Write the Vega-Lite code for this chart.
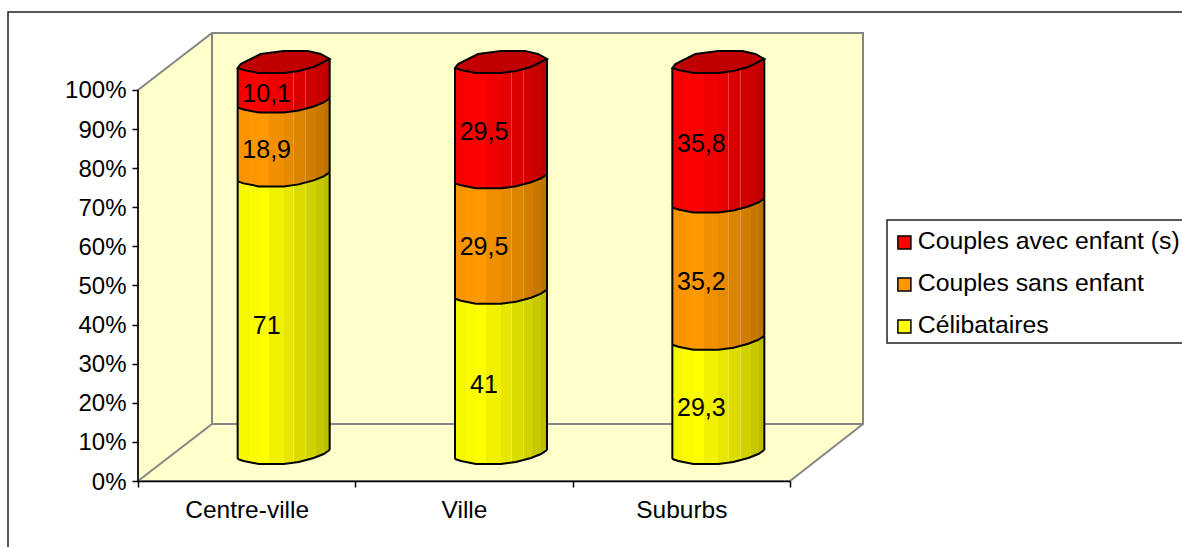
{"$schema":"https://vega.github.io/schema/vega-lite/v6.json","width":725,"height":449,"autosize":"none","padding":{"left":138,"top":32,"right":319,"bottom":66},"background":"white","config":{"view":{"stroke":null},"font":"Liberation Sans"},
"data":{"values":[
{"ville":"Centre-ville","type":"Célibataires","valeur":71,"etiquette":"71","rang":1},
{"ville":"Centre-ville","type":"Couples sans enfant","valeur":18.9,"etiquette":"18,9","rang":2},
{"ville":"Centre-ville","type":"Couples avec enfant (s)","valeur":10.1,"etiquette":"10,1","rang":3},
{"ville":"Ville","type":"Célibataires","valeur":41,"etiquette":"41","rang":1},
{"ville":"Ville","type":"Couples sans enfant","valeur":29.5,"etiquette":"29,5","rang":2},
{"ville":"Ville","type":"Couples avec enfant (s)","valeur":29.5,"etiquette":"29,5","rang":3},
{"ville":"Suburbs","type":"Célibataires","valeur":29.3,"etiquette":"29,3","rang":1},
{"ville":"Suburbs","type":"Couples sans enfant","valeur":35.2,"etiquette":"35,2","rang":2},
{"ville":"Suburbs","type":"Couples avec enfant (s)","valeur":35.8,"etiquette":"35,8","rang":3}]},
"transform":[{"stack":"valeur","groupby":["ville"],"sort":[{"field":"rang","order":"ascending"}],"offset":"normalize","as":["y0","y1"]}],
"encoding":{"x":{"field":"ville","type":"nominal","sort":null,"title":null,"scale":{"domain":["Centre-ville","Ville","Suburbs"],"range":[0,652],"paddingInner":0,"paddingOuter":0},"axis":{"tickBand":"extent","labelAngle":0,"labelFontSize":24.5,"labelColor":"#000","domainColor":"#000","tickColor":"#000","domainWidth":1.5,"tickWidth":1.5,"tickSize":6,"labelPadding":11,"zindex":1,"grid":false}},
"y":{"field":"y1","type":"quantitative","title":null,"scale":{"domain":[0,1.1483],"nice":false,"zero":false},"axis":{"values":[0,0.1,0.2,0.3,0.4,0.5,0.6,0.7,0.8,0.9,1],"format":".0%","labelFontSize":24,"labelColor":"#000","labelOffset":1,"domain":false,"tickColor":"#000","tickWidth":1.5,"tickSize":6,"labelPadding":6,"zindex":1,"grid":false}}},
"layer":[
{"transform":[{"filter":"datum.rang==1 && datum.ville=='Centre-ville'"}],"mark":{"type":"point","filled":false,"opacity":1,"size":4,"stroke":"#222222","strokeWidth":1.5,"shape":"M1100,-469L-130,-469L-130,100M1052,-261L749,-261L749,-138L1052,-138"},"encoding":{"x":{"datum":"Centre-ville","bandPosition":0},"y":{"datum":0}}},
{"transform":[{"filter":"datum.rang==1 && datum.ville=='Centre-ville'"}],"mark":{"type":"point","filled":true,"opacity":1,"size":4,"fill":"#FFFFCC","stroke":"#868686","strokeWidth":2,"shape":"M0,0L0,-391L74,-448L725,-448L725,-57L652,0Z"},"encoding":{"x":{"datum":"Centre-ville","bandPosition":0},"y":{"datum":0}}},
{"transform":[{"filter":"datum.rang==1 && datum.ville=='Centre-ville'"}],"mark":{"type":"point","filled":false,"opacity":1,"size":4,"stroke":"#868686","strokeWidth":2,"shape":"M0,0L74,-57L74,-448M74,-57L725,-57"},"encoding":{"x":{"datum":"Centre-ville","bandPosition":0},"y":{"datum":0}}},
{"transform":[{"filter":"datum.rang==1 && datum.ville=='Centre-ville'"}],"mark":{"type":"point","filled":false,"opacity":1,"size":4,"stroke":"#000","strokeWidth":1.5,"shape":"M0,0L0,-391"},"encoding":{"x":{"datum":"Centre-ville","bandPosition":0},"y":{"datum":0}}},
{"mark":{"type":"bar","size":40,"xOffset":37,"yOffset":-28,"y2Offset":-28},"encoding":{"y2":{"field":"y0"},"fill":{"field":"type","type":"nominal","title":null,"scale":{"domain":["Couples avec enfant (s)","Couples sans enfant","Célibataires"],"range":["#FF0000","#FF9900","#FFFF00"]},"legend":{"orient":"none","legendX":754,"legendY":198,"padding":0,"labelFontSize":24.8,"labelColor":"#000","labelLimit":400,"symbolType":"square","symbolSize":169,"symbolStrokeColor":"#000","symbolStrokeWidth":1.5,"rowPadding":16,"labelOffset":1}}}},
{"transform":[{"filter":"datum.rang==1"}],"mark":{"type":"bar","size":92,"xOffset":37,"yOffset":-31,"y2Offset":-31,"fill":{"gradient":"linear","x1":0,"x2":1,"y1":0,"y2":0,"stops":[{"offset":0,"color":"#F7F700"},{"offset":0.12,"color":"#F7F700"},{"offset":0.12,"color":"#FCFC00"},{"offset":0.23,"color":"#FCFC00"},{"offset":0.23,"color":"#FFFF00"},{"offset":0.34,"color":"#FFFF00"},{"offset":0.34,"color":"#F0F000"},{"offset":0.5,"color":"#F0F000"},{"offset":0.5,"color":"#E6E600"},{"offset":0.605,"color":"#E6E600"},{"offset":0.605,"color":"#EEEE40"},{"offset":0.615,"color":"#EEEE40"},{"offset":0.615,"color":"#DBDB00"},{"offset":0.735,"color":"#DBDB00"},{"offset":0.735,"color":"#E4E440"},{"offset":0.745,"color":"#E4E440"},{"offset":0.745,"color":"#D1D100"},{"offset":0.85,"color":"#D1D100"},{"offset":0.85,"color":"#C7C700"},{"offset":0.94,"color":"#C7C700"},{"offset":0.94,"color":"#BDBD00"},{"offset":1,"color":"#BDBD00"}]}},"encoding":{"y2":{"field":"y0"}}},
{"transform":[{"filter":"datum.rang==1"}],"mark":{"type":"point","filled":true,"opacity":1,"size":4,"xOffset":37,"yOffset":-28,"stroke":null,"shape":"M-46,6L-40,8L-25,11L0,11L15,9L30,5L40,1L46,-3L46,-15L-46,-15Z","fill":{"gradient":"linear","x1":0,"x2":1,"y1":0,"y2":0,"stops":[{"offset":0,"color":"#F7F700"},{"offset":0.12,"color":"#F7F700"},{"offset":0.12,"color":"#FCFC00"},{"offset":0.23,"color":"#FCFC00"},{"offset":0.23,"color":"#FFFF00"},{"offset":0.34,"color":"#FFFF00"},{"offset":0.34,"color":"#F0F000"},{"offset":0.5,"color":"#F0F000"},{"offset":0.5,"color":"#E6E600"},{"offset":0.605,"color":"#E6E600"},{"offset":0.605,"color":"#EEEE40"},{"offset":0.615,"color":"#EEEE40"},{"offset":0.615,"color":"#DBDB00"},{"offset":0.735,"color":"#DBDB00"},{"offset":0.735,"color":"#E4E440"},{"offset":0.745,"color":"#E4E440"},{"offset":0.745,"color":"#D1D100"},{"offset":0.85,"color":"#D1D100"},{"offset":0.85,"color":"#C7C700"},{"offset":0.94,"color":"#C7C700"},{"offset":0.94,"color":"#BDBD00"},{"offset":1,"color":"#BDBD00"}]}},"encoding":{"y":{"field":"y0"}}},
{"transform":[{"filter":"datum.rang==1"}],"mark":{"type":"point","filled":false,"opacity":1,"size":4,"xOffset":37,"yOffset":-28,"stroke":"#000","strokeWidth":2,"shape":"M-46,6L-40,8L-25,11L0,11L15,9L30,5L40,1L46,-3"},"encoding":{"y":{"field":"y0"}}},
{"transform":[{"filter":"datum.rang==2"}],"mark":{"type":"bar","size":92,"xOffset":37,"yOffset":-31,"y2Offset":-31,"fill":{"gradient":"linear","x1":0,"x2":1,"y1":0,"y2":0,"stops":[{"offset":0,"color":"#F79400"},{"offset":0.12,"color":"#F79400"},{"offset":0.12,"color":"#FC9700"},{"offset":0.23,"color":"#FC9700"},{"offset":0.23,"color":"#FF9900"},{"offset":0.34,"color":"#FF9900"},{"offset":0.34,"color":"#F09000"},{"offset":0.5,"color":"#F09000"},{"offset":0.5,"color":"#E68A00"},{"offset":0.605,"color":"#E68A00"},{"offset":0.605,"color":"#EAA040"},{"offset":0.615,"color":"#EAA040"},{"offset":0.615,"color":"#DB8400"},{"offset":0.735,"color":"#DB8400"},{"offset":0.735,"color":"#E09A40"},{"offset":0.745,"color":"#E09A40"},{"offset":0.745,"color":"#D17D00"},{"offset":0.85,"color":"#D17D00"},{"offset":0.85,"color":"#C77700"},{"offset":0.94,"color":"#C77700"},{"offset":0.94,"color":"#BD7100"},{"offset":1,"color":"#BD7100"}]}},"encoding":{"y2":{"field":"y0"}}},
{"transform":[{"filter":"datum.rang==2"}],"mark":{"type":"point","filled":true,"opacity":1,"size":4,"xOffset":37,"yOffset":-28,"stroke":null,"shape":"M-46,6L-40,8L-25,11L0,11L15,9L30,5L40,1L46,-3L46,-15L-46,-15Z","fill":{"gradient":"linear","x1":0,"x2":1,"y1":0,"y2":0,"stops":[{"offset":0,"color":"#F79400"},{"offset":0.12,"color":"#F79400"},{"offset":0.12,"color":"#FC9700"},{"offset":0.23,"color":"#FC9700"},{"offset":0.23,"color":"#FF9900"},{"offset":0.34,"color":"#FF9900"},{"offset":0.34,"color":"#F09000"},{"offset":0.5,"color":"#F09000"},{"offset":0.5,"color":"#E68A00"},{"offset":0.605,"color":"#E68A00"},{"offset":0.605,"color":"#EAA040"},{"offset":0.615,"color":"#EAA040"},{"offset":0.615,"color":"#DB8400"},{"offset":0.735,"color":"#DB8400"},{"offset":0.735,"color":"#E09A40"},{"offset":0.745,"color":"#E09A40"},{"offset":0.745,"color":"#D17D00"},{"offset":0.85,"color":"#D17D00"},{"offset":0.85,"color":"#C77700"},{"offset":0.94,"color":"#C77700"},{"offset":0.94,"color":"#BD7100"},{"offset":1,"color":"#BD7100"}]}},"encoding":{"y":{"field":"y0"}}},
{"transform":[{"filter":"datum.rang==2"}],"mark":{"type":"point","filled":false,"opacity":1,"size":4,"xOffset":37,"yOffset":-28,"stroke":"#000","strokeWidth":2,"shape":"M-46,6L-40,8L-25,11L0,11L15,9L30,5L40,1L46,-3"},"encoding":{"y":{"field":"y0"}}},
{"transform":[{"filter":"datum.rang==3"}],"mark":{"type":"bar","size":92,"xOffset":37,"yOffset":-8,"y2Offset":-31,"fill":{"gradient":"linear","x1":0,"x2":1,"y1":0,"y2":0,"stops":[{"offset":0,"color":"#F70000"},{"offset":0.12,"color":"#F70000"},{"offset":0.12,"color":"#FC0000"},{"offset":0.23,"color":"#FC0000"},{"offset":0.23,"color":"#FF0000"},{"offset":0.34,"color":"#FF0000"},{"offset":0.34,"color":"#F00000"},{"offset":0.5,"color":"#F00000"},{"offset":0.5,"color":"#E60000"},{"offset":0.605,"color":"#E60000"},{"offset":0.605,"color":"#EC4040"},{"offset":0.615,"color":"#EC4040"},{"offset":0.615,"color":"#DB0000"},{"offset":0.735,"color":"#DB0000"},{"offset":0.735,"color":"#E24040"},{"offset":0.745,"color":"#E24040"},{"offset":0.745,"color":"#D10000"},{"offset":0.85,"color":"#D10000"},{"offset":0.85,"color":"#C70000"},{"offset":0.94,"color":"#C70000"},{"offset":0.94,"color":"#BD0000"},{"offset":1,"color":"#BD0000"}]}},"encoding":{"y2":{"field":"y0"}}},
{"transform":[{"filter":"datum.rang==3"}],"mark":{"type":"point","filled":true,"opacity":1,"size":4,"xOffset":37,"yOffset":-28,"stroke":null,"shape":"M-46,6L-40,8L-25,11L0,11L15,9L30,5L40,1L46,-3L46,-15L-46,-15Z","fill":{"gradient":"linear","x1":0,"x2":1,"y1":0,"y2":0,"stops":[{"offset":0,"color":"#F70000"},{"offset":0.12,"color":"#F70000"},{"offset":0.12,"color":"#FC0000"},{"offset":0.23,"color":"#FC0000"},{"offset":0.23,"color":"#FF0000"},{"offset":0.34,"color":"#FF0000"},{"offset":0.34,"color":"#F00000"},{"offset":0.5,"color":"#F00000"},{"offset":0.5,"color":"#E60000"},{"offset":0.605,"color":"#E60000"},{"offset":0.605,"color":"#EC4040"},{"offset":0.615,"color":"#EC4040"},{"offset":0.615,"color":"#DB0000"},{"offset":0.735,"color":"#DB0000"},{"offset":0.735,"color":"#E24040"},{"offset":0.745,"color":"#E24040"},{"offset":0.745,"color":"#D10000"},{"offset":0.85,"color":"#D10000"},{"offset":0.85,"color":"#C70000"},{"offset":0.94,"color":"#C70000"},{"offset":0.94,"color":"#BD0000"},{"offset":1,"color":"#BD0000"}]}},"encoding":{"y":{"field":"y0"}}},
{"transform":[{"filter":"datum.rang==3"}],"mark":{"type":"point","filled":false,"opacity":1,"size":4,"xOffset":37,"yOffset":-28,"stroke":"#000","strokeWidth":2,"shape":"M-46,6L-40,8L-25,11L0,11L15,9L30,5L40,1L46,-3"},"encoding":{"y":{"field":"y0"}}},
{"transform":[{"filter":"datum.rang==3"}],"mark":{"type":"point","filled":true,"opacity":1,"size":4,"xOffset":37,"yOffset":-28,"stroke":null,"shape":"M-46,6L46,-3L46,25L-46,25Z","fill":{"gradient":"linear","x1":0,"x2":1,"y1":0,"y2":0,"stops":[{"offset":0,"color":"#F70000"},{"offset":0.12,"color":"#F70000"},{"offset":0.12,"color":"#FC0000"},{"offset":0.23,"color":"#FC0000"},{"offset":0.23,"color":"#FF0000"},{"offset":0.34,"color":"#FF0000"},{"offset":0.34,"color":"#F00000"},{"offset":0.5,"color":"#F00000"},{"offset":0.5,"color":"#E60000"},{"offset":0.605,"color":"#E60000"},{"offset":0.605,"color":"#EC4040"},{"offset":0.615,"color":"#EC4040"},{"offset":0.615,"color":"#DB0000"},{"offset":0.735,"color":"#DB0000"},{"offset":0.735,"color":"#E24040"},{"offset":0.745,"color":"#E24040"},{"offset":0.745,"color":"#D10000"},{"offset":0.85,"color":"#D10000"},{"offset":0.85,"color":"#C70000"},{"offset":0.94,"color":"#C70000"},{"offset":0.94,"color":"#BD0000"},{"offset":1,"color":"#BD0000"}]}}},
{"mark":{"type":"rule","color":"#000","strokeWidth":2,"xOffset":-9,"yOffset":-22,"y2Offset":-22},"encoding":{"y2":{"field":"y0"}}},
{"mark":{"type":"rule","color":"#000","strokeWidth":2,"xOffset":83,"yOffset":-31,"y2Offset":-31},"encoding":{"y2":{"field":"y0"}}},
{"transform":[{"filter":"datum.rang==3"}],"mark":{"type":"point","filled":true,"opacity":1,"size":4,"xOffset":37,"yOffset":-28,"fill":"#C00000","stroke":"#000","strokeWidth":2,"shape":"M-46,6L-43,2L-23,-8L0,-11L24,-11L37,-8L46,-3L30,5L15,9L0,11L-25,11L-40,8Z"}},
{"mark":{"type":"text","fontSize":25,"color":"#000","xOffset":20,"yOffset":-16},"encoding":{"y":{"field":"valeur","type":"quantitative","stack":"normalize","bandPosition":0.5},"order":{"field":"rang"},"text":{"field":"etiquette"}}}
]}
